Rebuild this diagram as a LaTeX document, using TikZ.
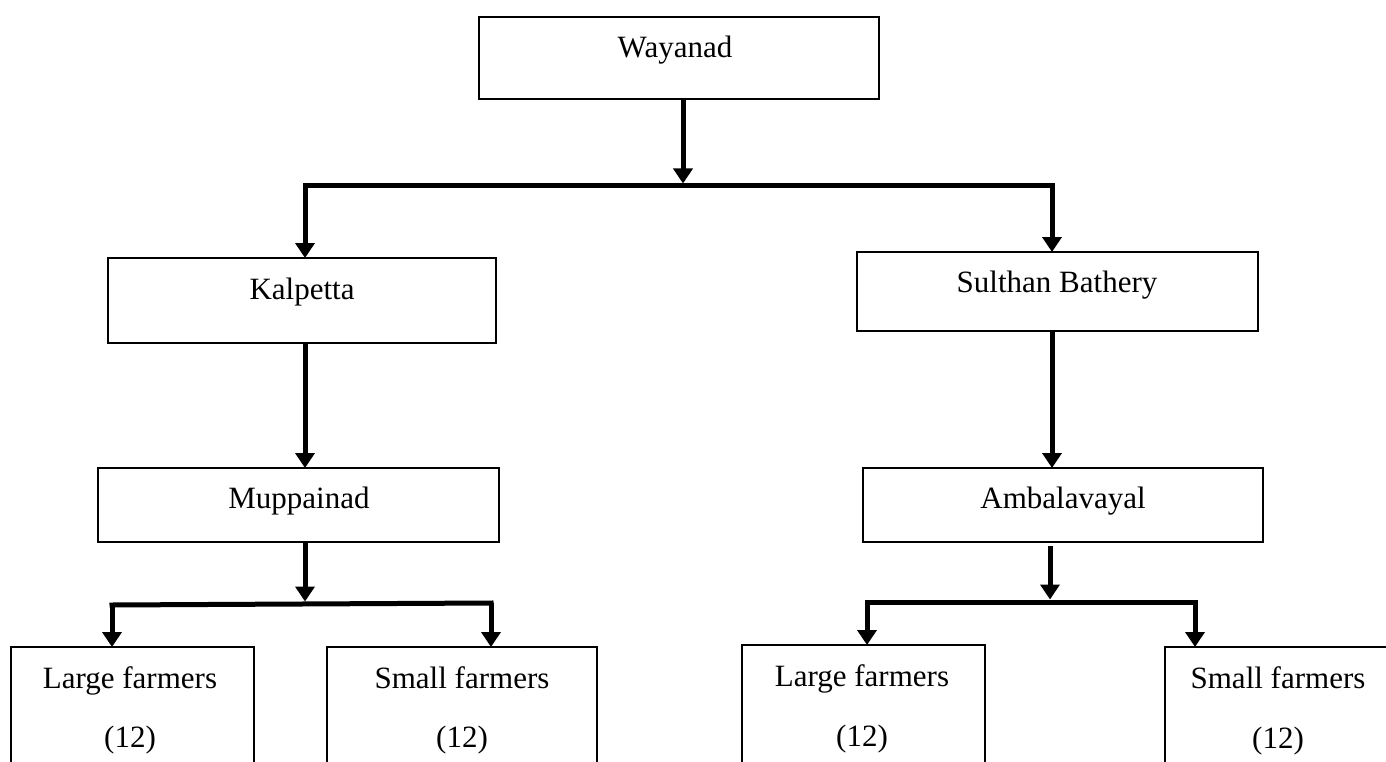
\documentclass[tikz,border=0pt]{standalone}
\usepackage{fontspec}
\setmainfont{Liberation Serif}
\usetikzlibrary{arrows.meta}
\begin{document}
\begin{tikzpicture}[x=1pt,y=-1pt,
  box/.style={draw,line width=2pt,inner sep=0pt,outer sep=0pt},
  lbl/.style={anchor=base,inner sep=0pt,font=\fontsize{31}{37}\selectfont},
  conn/.style={line width=5pt},
  arr/.style={conn,-{Triangle[width=19pt,length=15pt]}}]
\fill[white] (0,0) rectangle (1386,762);
\useasboundingbox (0,0) rectangle (1386,762);

% boxes
\node[box,minimum width=400pt,minimum height=82pt] (way) at (679,58) {};
\node[lbl] (wayt) at (675,58) {Wayanad};
\node[box,minimum width=388pt,minimum height=85pt] (kal) at (302,300.5) {};
\node[lbl] (kalt) at (302,299) {Kalpetta};
\node[box,minimum width=401pt,minimum height=79pt] (sul) at (1057.5,291.5) {};
\node[lbl] (sult) at (1057,292) {Sulthan Bathery};
\node[box,minimum width=401pt,minimum height=74pt] (mup) at (298.5,505) {};
\node[lbl] (mupt) at (299,508) {Muppainad};
\node[box,minimum width=400pt,minimum height=74pt] (amb) at (1063,505) {};
\node[lbl] (ambt) at (1063,508) {Ambalavayal};

\node[box,minimum width=243pt,minimum height=153pt] (lf1) at (132.5,723.5) {};
\node[lbl] (lf1a) at (130,688) {Large farmers};
\node[lbl] (lf1b) at (130,747) {(12)};
\node[box,minimum width=270pt,minimum height=153pt] (sf1) at (462,723.5) {};
\node[lbl] (sf1a) at (462,688) {Small farmers};
\node[lbl] (sf1b) at (462,747) {(12)};
\node[box,minimum width=243pt,minimum height=155pt] (lf2) at (863.5,722.5) {};
\node[lbl] (lf2a) at (862,686) {Large farmers};
\node[lbl] (lf2b) at (862,746) {(12)};
\node[box,minimum width=250pt,minimum height=153pt] (sf2) at (1290,723.5) {};
\node[lbl] (sf2a) at (1278,688) {Small farmers};
\node[lbl] (sf2b) at (1278,748) {(12)};

% junctions
\coordinate (j1) at (683,186);
\coordinate (j1l) at (305,186);
\coordinate (j1r) at (1052,186);
\coordinate (j2) at (305,604);
\coordinate (j2l) at (112,605);
\coordinate (j2r) at (491,603);
\coordinate (j3) at (1050,602);
\coordinate (j3l) at (867,602);
\coordinate (j3r) at (1195,602);

% connectors
\draw[arr,shorten >=2.5pt] (way.south -| j1) -- (j1);
\draw[conn,line cap=rect] (j1l) -- (j1r);
\draw[arr] (j1l) -- (kal.north -| j1l);
\draw[arr] (j1r) -- (sul.north -| j1r);
\draw[arr] (kal.south -| j1l) -- (mup.north -| j1l);
\draw[arr] (sul.south -| j1r) -- (amb.north -| j1r);

\draw[arr,shorten >=2.5pt] (mup.south -| j2) -- (j2);
\draw[conn,line cap=rect] (j2l) -- (j2r);
\draw[arr] (j2l) -- (lf1.north -| j2l);
\draw[arr] (j2r) -- (sf1.north -| j2r);

\draw[arr,shorten >=2.5pt,shorten <=4pt] (amb.south -| j3) -- (j3);
\draw[conn,line cap=rect] (j3l) -- (j3r);
\draw[arr] (j3l) -- (lf2.north -| j3l);
\draw[arr] (j3r) -- (sf2.north -| j3r);
\end{tikzpicture}
\end{document}
